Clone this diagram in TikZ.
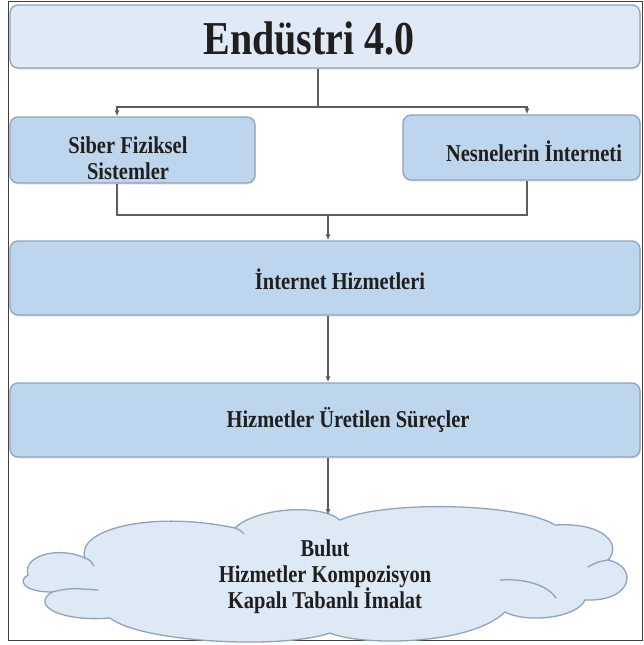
\documentclass[tikz,border=0pt]{standalone}
\usepackage{fontspec}
\setmainfont{Liberation Serif}[BoldFont={Liberation Serif Bold}]
\usetikzlibrary{arrows.meta,shadows}
\newcommand{\tall}[1]{\scalebox{1}[1.18]{#1}}
\definecolor{lightbox}{HTML}{E0EAF6}
\definecolor{midbox}{HTML}{BDD6EE}
\definecolor{cloudfill}{HTML}{DDE9F5}
\definecolor{edge}{HTML}{8FA3BA}
\definecolor{conn}{HTML}{5E5E5E}
\tikzset{
  box/.style={draw=edge, line width=1.3pt, rounded corners=8pt, inner sep=0pt,
    drop shadow={opacity=0.2, shadow xshift=0.8pt, shadow yshift=-1.5pt}},
  txt/.style={font=\bfseries\fontsize{20.5}{26}\selectfont, align=center, inner sep=0pt, text=black!88},
  conline/.style={draw=conn, line width=1.2pt},
  arr/.style={conline, -{Latex[length=6pt,width=5pt]}},
  cloudline/.style={draw=edge, line width=1.3pt, line cap=round},
}
\begin{document}
\begin{tikzpicture}[x=1pt,y=-1pt]
\useasboundingbox (0,0) rectangle (643,645);
\draw[black!75, line width=0.8pt] (8,1) rectangle (642,640);
% boxes
\node[box, fill=lightbox, minimum width=630pt, minimum height=63pt] (top) at (325,36.5) {};
\node[box, fill=midbox, minimum width=245pt, minimum height=66pt] (left) at (132.5,150) {};
\node[box, fill=midbox, minimum width=237pt, minimum height=65pt] (right) at (521.5,147.5) {};
\node[box, fill=midbox, minimum width=630pt, minimum height=74pt] (inet) at (325,278) {};
\node[box, fill=midbox, minimum width=630pt, minimum height=74pt] (hizm) at (325,420) {};
% cloud
\path[cloudline, fill=cloudfill]
  (28,575) .. controls (22,555) and (60,546) .. (85,558)
  .. controls (75,530) and (150,510) .. (235,528)
  .. controls (255,508) and (320,503) .. (340,520)
  .. controls (385,500) and (520,503) .. (555,525)
  .. controls (605,522) and (622,545) .. (608,560)
  .. controls (638,566) and (634,602) .. (585,600)
  .. controls (576,619) and (525,623) .. (505,612)
  .. controls (470,646) and (360,646) .. (330,633)
  .. controls (280,650) and (140,642) .. (110,618)
  .. controls (62,622) and (30,606) .. (52,592)
  .. controls (22,592) and (18,580) .. (28,575) -- cycle;
\draw[cloudline] (52,592) .. controls (70,588) .. (98,590);
\draw[cloudline] (500,580) .. controls (530,578) and (550,588) .. (556,598);
\draw[cloudline] (588,567) .. controls (597,562) .. (608,560);
\draw[cloudline] (85,558) .. controls (90,560) .. (94,566);
\draw[cloudline] (235,528) .. controls (240,530) .. (244,534);
\coordinate (ctop) at (328,515);
% texts
\node[txt, font=\bfseries\fontsize{40}{44}\selectfont] (ttop) at (309,38) {\tall{Endüstri 4.0}};
\node[txt] (tleft) at (128,158) {\tall{Siber Fiziksel}\\\tall{Sistemler}};
\node[txt] (tright) at (534,151) {\tall{Nesnelerin İnterneti}};
\node[txt] (tinet) at (340,279) {\tall{İnternet Hizmetleri}};
\node[txt] (thizm) at (348,420) {\tall{Hizmetler Üretilen Süreçler}};
\node[txt] (tcloud) at (325,577) {\tall{Bulut}\\\tall{Hizmetler Kompozisyon}\\\tall{Kapalı Tabanlı İmalat}};
% connectors
\coordinate (j1) at (318,107);
\coordinate (aL) at (117,107);
\coordinate (aR) at (527,107);
\coordinate (j2) at (328,215);
\draw[conline] (top.south -| j1) -- (j1);
\draw[arr] (j1) -- (aL) -- (left.north -| aL);
\draw[arr] (j1) -- (aR) -- (right.north -| aR);
\draw[conline] (left.south -| aL) |- (j2) -| (right.south -| aR);
\draw[arr] (j2) -- (inet.north -| j2);
\draw[arr] (inet.south -| j2) -- (hizm.north -| j2);
\draw[arr] (hizm.south -| j2) -- (ctop);
\end{tikzpicture}
\end{document}
